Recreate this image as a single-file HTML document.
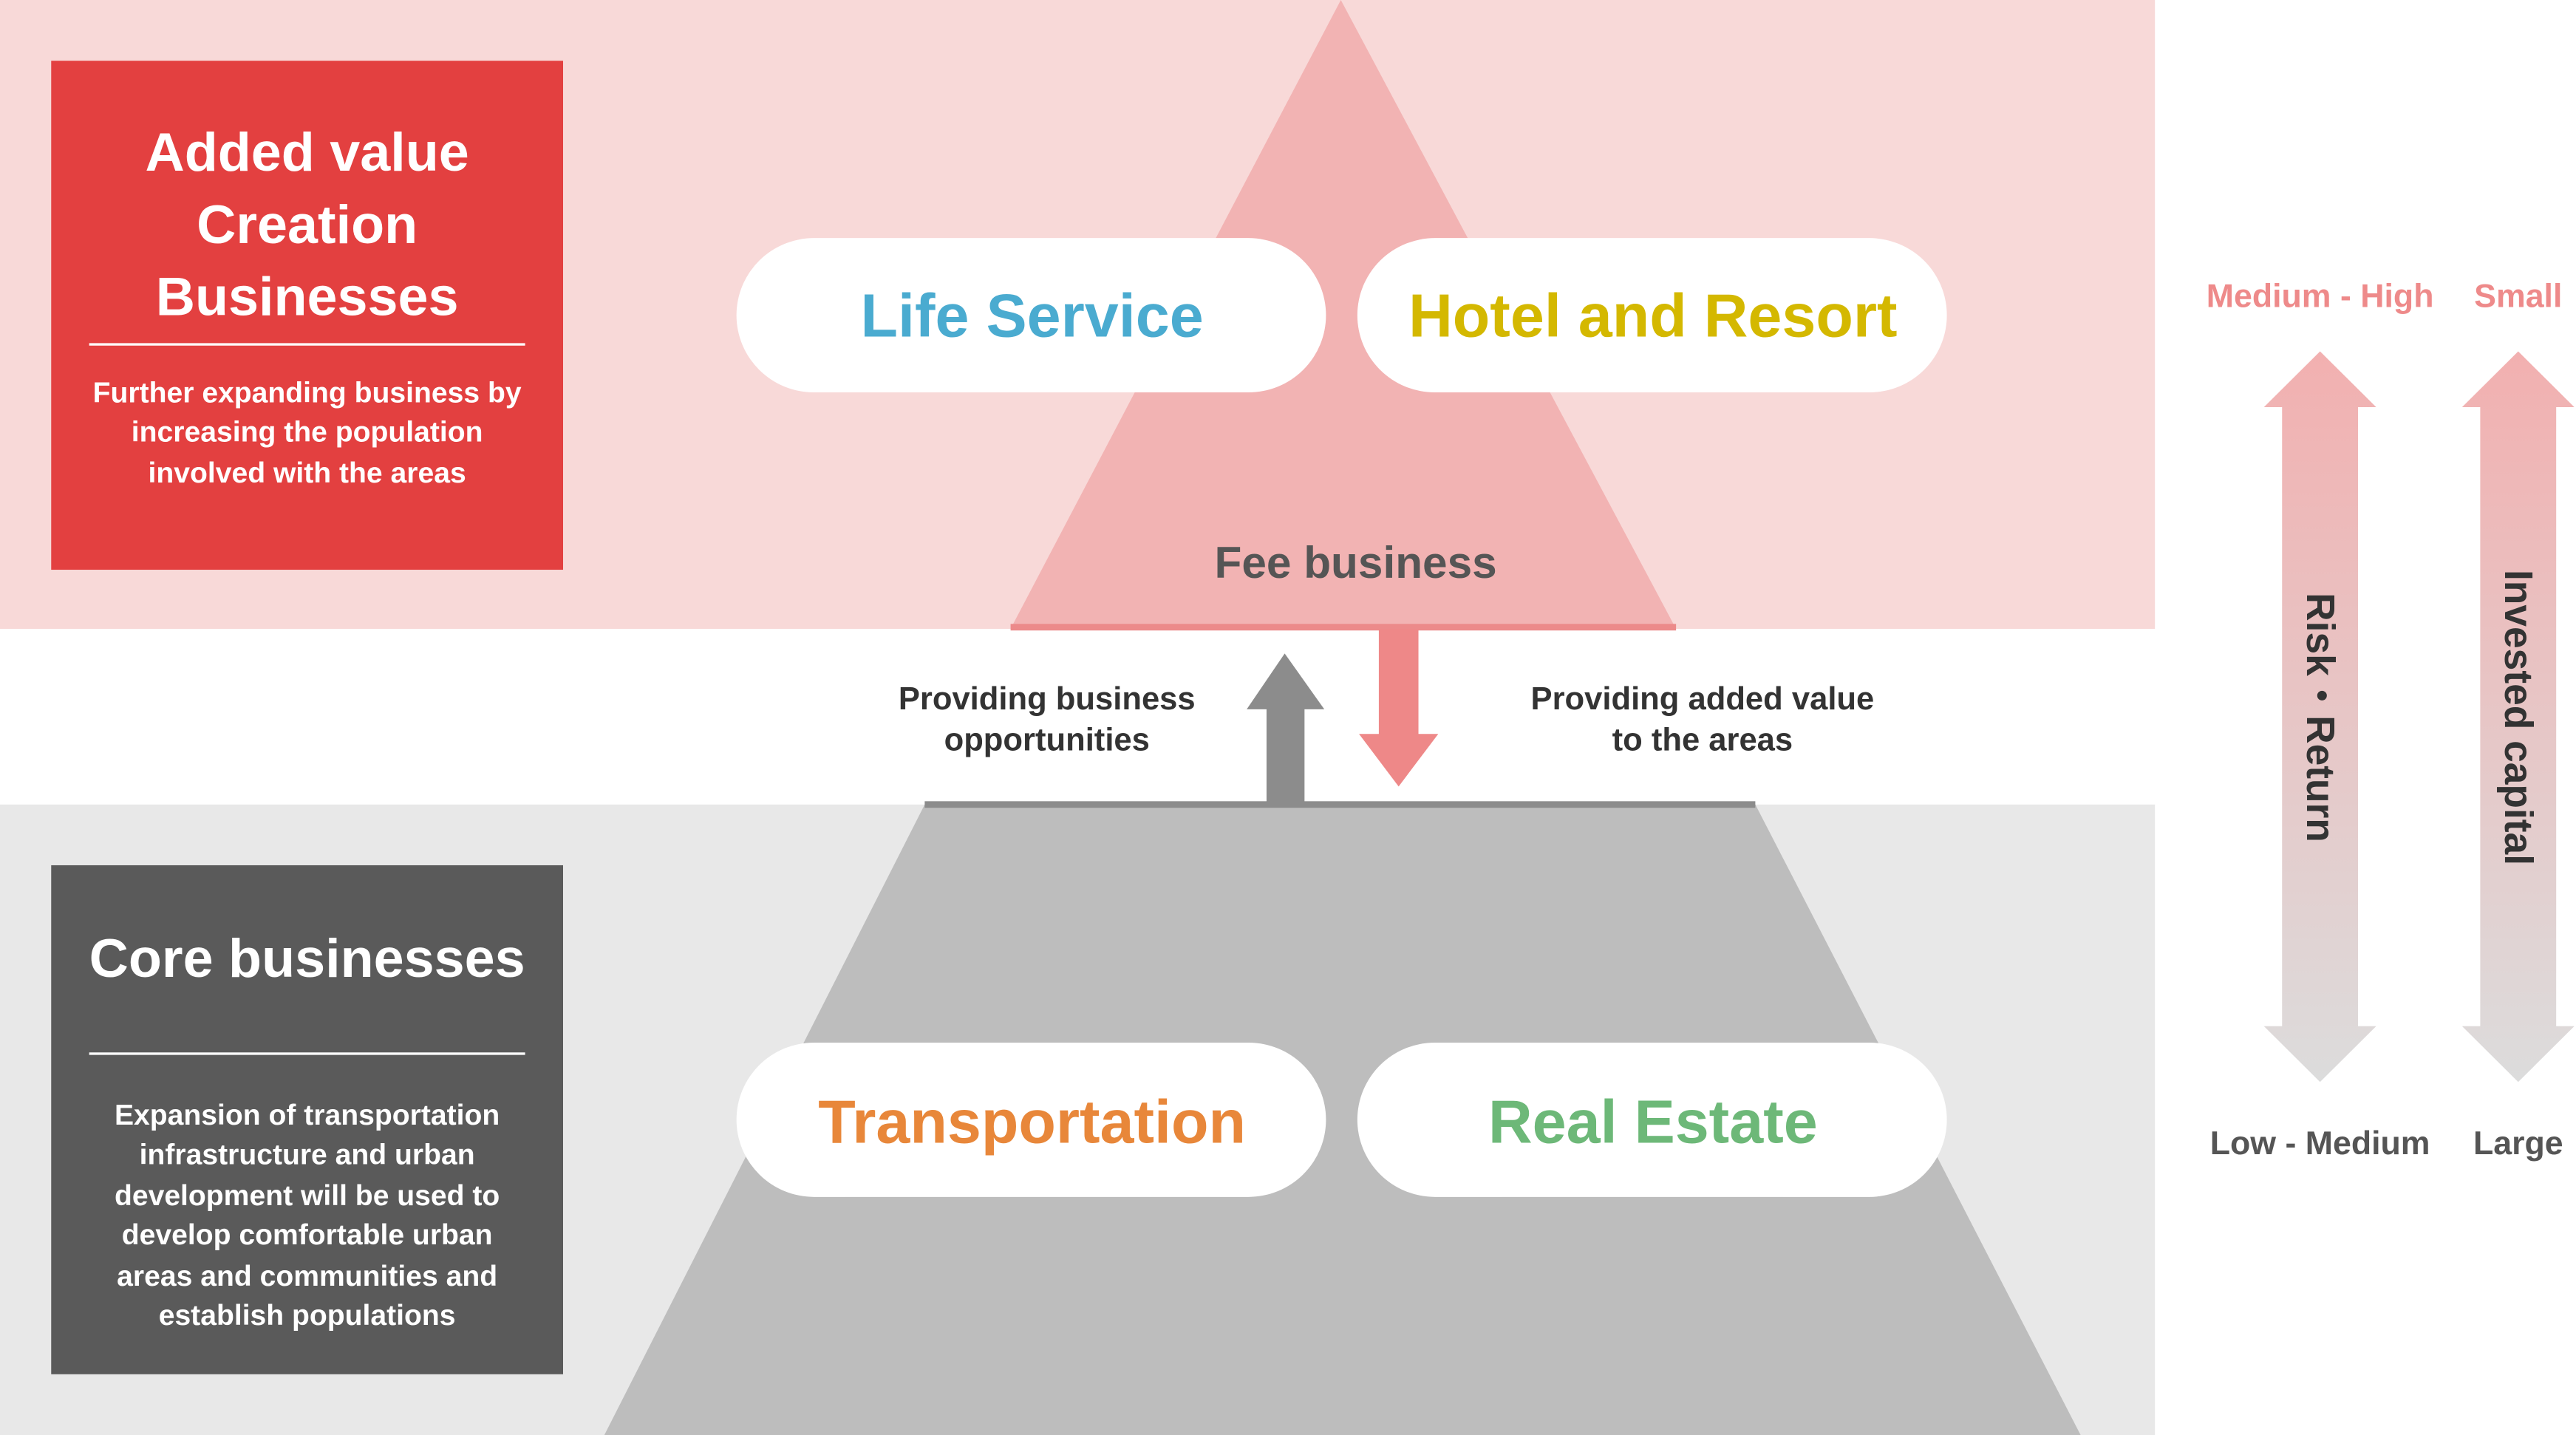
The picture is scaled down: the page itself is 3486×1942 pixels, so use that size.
<!DOCTYPE html>
<html><head><meta charset="utf-8"><style>html,body{margin:0;padding:0;background:#fff}svg{display:block}</style></head>
<body>
<svg width="3486" height="1942" viewBox="0 0 1560 874" preserveAspectRatio="none" xmlns="http://www.w3.org/2000/svg" font-family="Liberation Sans, DejaVu Sans, sans-serif">
<defs>
<linearGradient id="g" x1="0" y1="0" x2="0" y2="1">
<stop offset="0" stop-color="#f2b0b0"/><stop offset="1" stop-color="#dcdcdc"/></linearGradient>
</defs>
<rect x="0" y="0" width="1305" height="383" fill="#f8d9d8"/>
<rect x="0" y="490" width="1305" height="384" fill="#e8e8e8"/>
<polygon points="812,0 612,383 1015,383" fill="#f2b3b3"/>
<rect x="612" y="380" width="403" height="4" fill="#ec8a8a"/>
<polygon points="560,490 1063,490 1260,874 366,874" fill="#bdbdbd"/>
<rect x="560" y="488" width="503" height="4" fill="#8c8c8c"/>
<rect x="31" y="37" width="310" height="310" fill="#e34040"/>
<rect x="31" y="527" width="310" height="310" fill="#5a5a5a"/>
<g fill="#fff" text-anchor="middle" font-weight="bold">
<text x="186" y="104" font-size="33">Added value</text>
<text x="186" y="148" font-size="33">Creation</text>
<text x="186" y="192" font-size="33">Businesses</text>
<rect x="54" y="209" width="264" height="1.5"/>
<text x="186" y="245" font-size="17.5">Further expanding business by</text>
<text x="186" y="269" font-size="17.5">increasing the population</text>
<text x="186" y="294" font-size="17.5">involved  with the areas</text>
<text x="186" y="595" font-size="33">Core businesses</text>
<rect x="54" y="641" width="264" height="1.5"/>
<text x="186" y="685" font-size="17.5">Expansion of transportation</text>
<text x="186" y="709" font-size="17.5">infrastructure and urban</text>
<text x="186" y="734" font-size="17.5">development will be used to</text>
<text x="186" y="758" font-size="17.5">develop comfortable urban</text>
<text x="186" y="783" font-size="17.5">areas and communities and</text>
<text x="186" y="807" font-size="17.5">establish populations</text>
</g>
<g fill="#fff">
<rect x="446" y="145" width="357" height="94" rx="47"/>
<rect x="822" y="145" width="357" height="94" rx="47"/>
<rect x="446" y="635" width="357" height="94" rx="47"/>
<rect x="822" y="635" width="357" height="94" rx="47"/>
</g>
<g text-anchor="middle" font-weight="bold" font-size="37">
<text x="625" y="205" fill="#4aabd0">Life Service</text>
<text x="1001" y="205" fill="#d4b800">Hotel and Resort</text>
<text x="625" y="696" fill="#e8873a">Transportation</text>
<text x="1001" y="696" fill="#6db878">Real Estate</text>
</g>
<text x="821" y="352" text-anchor="middle" font-weight="bold" font-size="27" fill="#555">Fee business</text>
<polygon points="767,490 790,490 790,432 802,432 778,398 755,432 767,432" fill="#8c8c8c"/>
<polygon points="835,383 859,383 859,447 871,447 847,479 823,447 835,447" fill="#ee8888"/>
<g text-anchor="middle" font-weight="bold" font-size="19.5" fill="#333">
<text x="634" y="432">Providing business</text>
<text x="634" y="457">opportunities</text>
<text x="1031" y="432">Providing added value</text>
<text x="1031" y="457">to the areas</text>
</g>
<polygon points="1405,214 1439,248 1428,248 1428,625 1439,625 1405,659 1371,625 1382,625 1382,248 1371,248" fill="url(#g)"/>
<polygon points="1525,214 1559,248 1548,248 1548,625 1559,625 1525,659 1491,625 1502,625 1502,248 1491,248" fill="url(#g)"/>
<g text-anchor="middle" font-weight="bold" font-size="20">
<text x="1405" y="187" fill="#ee8a8a">Medium - High</text>
<text x="1525" y="187" fill="#ee8a8a">Small</text>
<text x="1405" y="703" fill="#555">Low - Medium</text>
<text x="1525" y="703" fill="#555">Large</text>
</g>
<g font-weight="bold" font-size="24" fill="#333" text-anchor="middle">
<text transform="translate(1397,437) rotate(90)">Risk・Return</text>
<text transform="translate(1517,437) rotate(90)">Invested capital</text>
</g>
</svg>
</body></html>
